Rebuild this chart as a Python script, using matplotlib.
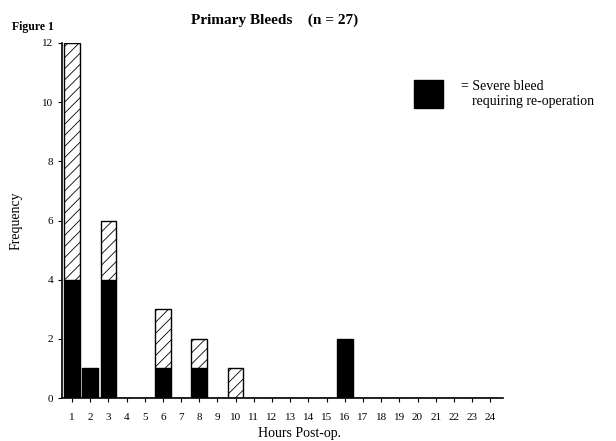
import numpy as np
import matplotlib.pyplot as plt
from matplotlib.patches import Rectangle

plt.rcParams['font.family'] = ['Liberation Serif', 'DejaVu Serif']
plt.rcParams['hatch.linewidth'] = 0.6

hours = np.arange(1, 25)
# totals per hour and the severe (re-operation) part of each
total = [12, 1, 6, 0, 0, 3, 0, 2, 0, 1, 0, 0, 0, 0, 0, 2, 0, 0, 0, 0, 0, 0, 0, 0]
severe = [4, 1, 4, 0, 0, 1, 0, 1, 0, 0, 0, 0, 0, 0, 0, 2, 0, 0, 0, 0, 0, 0, 0, 0]
yticks = [0, 2, 4, 6, 8, 10, 12]

total = np.array(total)
severe = np.array(severe)
other = total - severe

fig = plt.figure(figsize=(6.16, 4.41), dpi=100)
ax = fig.add_axes([0.1006, 0.0975, 0.716, 0.805])

w = 0.86
ax.bar(hours, severe, width=w, color='black', edgecolor='black', linewidth=1)
mask = other > 0
ax.bar(hours[mask], other[mask], width=w, bottom=severe[mask], color='white',
       edgecolor='black', linewidth=1, hatch='///')

ax.set_xlim(0.45, 24.7)
ax.set_ylim(0, 12)
ax.set_xticks(hours)
ax.set_yticks(yticks)
ax.tick_params(axis='both', labelsize=8, length=3, width=0.8, direction='out')
ax.tick_params(axis='x', pad=8)
ax.spines['top'].set_visible(False)
ax.spines['right'].set_visible(False)
ax.spines['left'].set_linewidth(1.2)
ax.spines['bottom'].set_linewidth(1.2)

ax.set_ylabel('Frequency', fontsize=10, labelpad=14)
fig.text(300 / 616, 1 - 434 / 441, 'Hours Post-op.', fontsize=10, ha='center', va='center')

fig.text(0.446, 0.955, 'Primary Bleeds    (n = 27)', fontsize=11, fontweight='bold',
         ha='center', va='center')
fig.text(0.02, 0.938, 'Figure 1', fontsize=8.5, fontweight='bold', ha='left', va='center')

# legend: black box with text
fig.patches.append(Rectangle((414 / 616, 1 - 108 / 441), 29 / 616, 28 / 441,
                             transform=fig.transFigure, facecolor='black',
                             edgecolor='black'))
fig.text(461 / 616, 1 - 86 / 441, '= Severe bleed', fontsize=10, ha='left', va='center')
fig.text(472 / 616, 1 - 101 / 441, 'requiring re-operation', fontsize=10, ha='left',
         va='center')

fig.savefig('out.png', dpi=100)
